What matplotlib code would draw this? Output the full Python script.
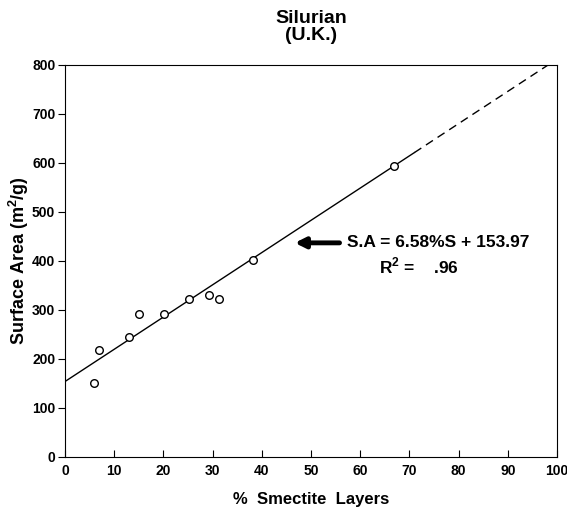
import numpy as np
import matplotlib
matplotlib.use("Agg")
import matplotlib.pyplot as plt

plt.rcParams['font.family'] = ['Liberation Sans', 'DejaVu Sans']
plt.rcParams['font.weight'] = 'bold'
plt.rcParams['mathtext.fontset'] = 'custom'
plt.rcParams['mathtext.rm'] = 'Liberation Sans:bold'
plt.rcParams['mathtext.bf'] = 'Liberation Sans:bold'

# % smectite layers vs surface area (m2/g)
smectite = [5.8, 7.0, 13.1, 15.1, 20.1, 25.2, 29.2, 31.3, 38.2, 66.9]
surface = [152, 218, 245, 292, 292, 322, 330, 322, 402, 594]

slope = 6.58
intercept = 153.97
x_solid = np.array([0, 71])
x_dash = np.array([71, 100])

fig = plt.figure(figsize=(5.67, 5.09), dpi=100)
ax = fig.add_axes([0.1146, 0.1022, 0.8678, 0.7701])

ax.plot(x_solid, slope * x_solid + intercept, color='black', lw=1)
ax.plot(x_dash, slope * x_dash + intercept, color='black', lw=1, ls=(0, (6, 4)))
ax.scatter(smectite, surface, s=30, facecolors='white', edgecolors='black', linewidths=1, zorder=3)

ax.set_xlim(0, 100)
ax.set_ylim(0, 800)
ax.set_xticks(np.arange(0, 101, 10))
ax.set_yticks(np.arange(0, 801, 100))
ax.tick_params(axis='x', direction='in', length=5, labelsize=10, pad=5)
ax.tick_params(axis='y', direction='out', length=5, labelsize=10, pad=2)
for lab in ax.get_xticklabels() + ax.get_yticklabels():
    lab.set_fontweight('bold')

ax.set_xlabel('%  Smectite  Layers', fontsize=12, fontweight='bold', labelpad=10)
ax.set_ylabel('Surface Area (m$^{2}$/g)', fontsize=13, fontweight='bold', labelpad=1)
ax.set_title('Silurian\n(U.K.)', fontsize=14, fontweight='bold', linespacing=1.0, pad=18)

ax.annotate('', xy=(46.7, 437), xytext=(55.8, 437),
            arrowprops=dict(arrowstyle='-|>', color='black', lw=3.5, mutation_scale=15,
                            shrinkA=0, shrinkB=0))
ax.text(57.3, 437, 'S.A = 6.58%S + 153.97', fontsize=12.5, fontweight='bold', va='center', ha='left')
ax.text(63.9, 390, 'R$^{2}$ =    .96', fontsize=12.5, fontweight='bold', va='center', ha='left')

fig.savefig('out.png', dpi=100)
